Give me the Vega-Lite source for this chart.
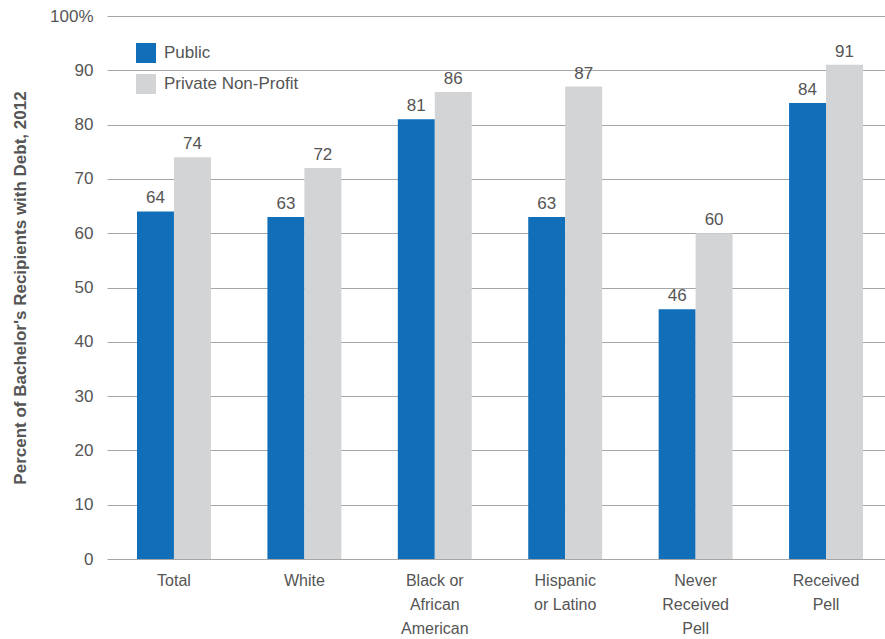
{
  "$schema": "https://vega.github.io/schema/vega-lite/v6.json",
  "width": 786,
  "height": 543,
  "autosize": {"type": "none"},
  "padding": {"left": 107, "top": 16, "right": 0, "bottom": 80},
  "config": {
    "view": {"stroke": null},
    "font": "Liberation Sans"
  },
  "data": {
    "values": [
      {"group": "Total", "sector": "Public", "pct": 64},
      {"group": "Total", "sector": "Private Non-Profit", "pct": 74},
      {"group": "White", "sector": "Public", "pct": 63},
      {"group": "White", "sector": "Private Non-Profit", "pct": 72},
      {"group": "Black or African American", "sector": "Public", "pct": 81},
      {"group": "Black or African American", "sector": "Private Non-Profit", "pct": 86},
      {"group": "Hispanic or Latino", "sector": "Public", "pct": 63},
      {"group": "Hispanic or Latino", "sector": "Private Non-Profit", "pct": 87},
      {"group": "Never Received Pell", "sector": "Public", "pct": 46},
      {"group": "Never Received Pell", "sector": "Private Non-Profit", "pct": 60},
      {"group": "Received Pell", "sector": "Public", "pct": 84},
      {"group": "Received Pell", "sector": "Private Non-Profit", "pct": 91}
    ]
  },
  "encoding": {
    "x": {
      "field": "group",
      "type": "nominal",
      "sort": null,
      "scale": {"paddingInner": 0.433, "paddingOuter": 0.23},
      "axis": {
        "title": null,
        "labelAngle": 0,
        "labelFontSize": 16,
        "labelColor": "#555555",
        "labelPadding": 13,
        "labelLineHeight": 24,
        "labelOverlap": false,
        "domain": false,
        "ticks": false,
        "labelExpr": "datum.value == 'Black or African American' ? ['Black or', 'African', 'American'] : datum.value == 'Hispanic or Latino' ? ['Hispanic', 'or Latino'] : datum.value == 'Never Received Pell' ? ['Never', 'Received', 'Pell'] : datum.value == 'Received Pell' ? ['Received', 'Pell'] : datum.label"
      }
    },
    "xOffset": {
      "field": "sector",
      "type": "nominal",
      "sort": ["Public", "Private Non-Profit"]
    },
    "y": {
      "field": "pct",
      "type": "quantitative",
      "scale": {"domain": [0, 100], "nice": false},
      "axis": {
        "title": "Percent of Bachelor's Recipients with Debt, 2012",
        "titleFontSize": 17,
        "titleFontWeight": "bold",
        "titleColor": "#555555",
        "titlePadding": 20,
        "values": [0, 10, 20, 30, 40, 50, 60, 70, 80, 90, 100],
        "labelOverlap": false,
        "labelFontSize": 17,
        "labelColor": "#555555",
        "labelPadding": 14,
        "domain": false,
        "ticks": false,
        "gridColor": "#a6a6a6",
        "gridWidth": 1,
        "labelExpr": "datum.value == 100 ? '100%' : datum.label"
      }
    }
  },
  "layer": [
    {
      "mark": {"type": "bar"},
      "encoding": {
        "color": {
          "field": "sector",
          "type": "nominal",
          "sort": ["Public", "Private Non-Profit"],
          "scale": {"domain": ["Public", "Private Non-Profit"], "range": ["#116eb8", "#d3d4d6"]},
          "legend": {
            "title": null,
            "orient": "none",
            "legendX": 29,
            "legendY": 27,
            "symbolType": "square",
            "symbolSize": 400,
            "symbolStrokeWidth": 0,
            "labelFontSize": 17,
            "labelColor": "#555555",
            "labelOffset": 8,
            "rowPadding": 11
          }
        }
      }
    },
    {
      "mark": {"type": "text", "dy": -13, "fontSize": 17, "color": "#555555"},
      "encoding": {
        "text": {"field": "pct", "type": "quantitative"}
      }
    }
  ]
}
